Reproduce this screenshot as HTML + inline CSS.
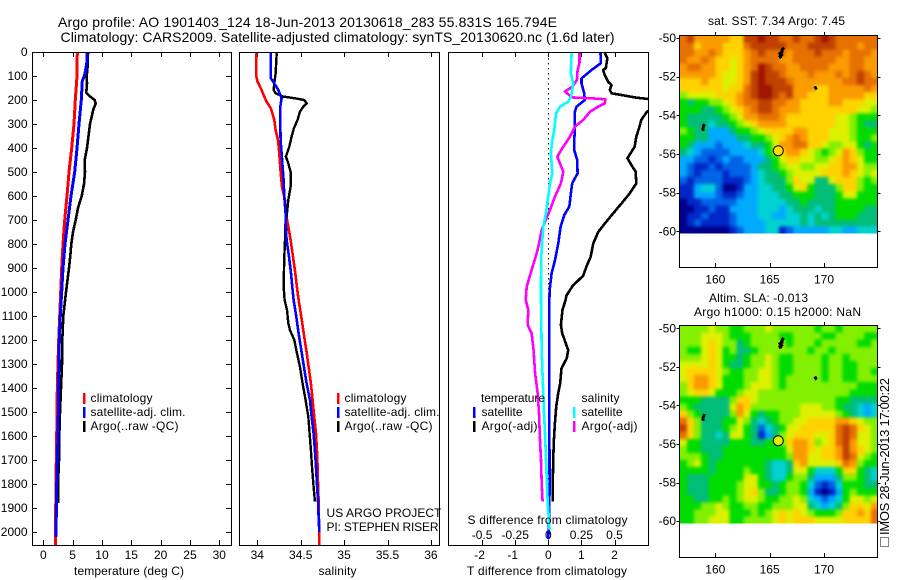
<!DOCTYPE html>
<html lang="en">
<head>
<meta charset="utf-8">
<title>Argo profile</title>
<style>
html,body{margin:0;padding:0;background:#fff;}
svg{display:block;}
text{font-family:"Liberation Sans",sans-serif;font-size:12px;fill:#000;}
.big{font-size:14px;}
.mid{font-size:13px;}
.frame{fill:none;stroke:#000;stroke-width:1;shape-rendering:crispEdges;}
.bar{shape-rendering:crispEdges;}
</style>
</head>
<body>
<svg id="chart" xmlns="http://www.w3.org/2000/svg" width="900" height="580" viewBox="0 0 900 580">
  <defs>
    <clipPath id="clip1"><rect x="32" y="52" width="199" height="493"/></clipPath>
    <clipPath id="clip2"><rect x="239" y="52" width="201" height="493"/></clipPath>
    <clipPath id="clip3"><rect x="448" y="52" width="201" height="493"/></clipPath>
    <clipPath id="clipMap1"><rect x="679.5" y="35.5" width="198" height="198"/></clipPath>
    <clipPath id="clipMap2"><rect x="679.5" y="325.5" width="198" height="198"/></clipPath>
    <filter id="soften" x="-5%" y="-5%" width="110%" height="110%" color-interpolation-filters="sRGB">
      <feGaussianBlur stdDeviation="1.6"/>
      <feComponentTransfer><feFuncA type="linear" slope="4"/></feComponentTransfer>
    </filter>
  </defs>

  <text class="big" x="58" y="27" textLength="499" lengthAdjust="spacing">Argo profile: AO 1901403_124 18-Jun-2013 20130618_283 55.831S 165.794E</text>
  <text class="big" x="60.5" y="42" textLength="554" lengthAdjust="spacing">Climatology: CARS2009. Satellite-adjusted climatology: synTS_20130620.nc (1.6d later)</text>

  <g id="p1"></g>
  <g id="p2"></g>
  <g id="p3"></g>
  <g id="m1"></g>
  <g id="m2"></g>

  <rect class="frame" x="32.5" y="52.5" width="199" height="493"/>
  <rect class="frame" x="239.5" y="52.5" width="200" height="493"/>
  <rect class="frame" x="448.5" y="52.5" width="200" height="493"/>
  <rect class="frame" x="679.5" y="35.5" width="198" height="232"/>
  <rect class="frame" x="679.5" y="325.5" width="198" height="232"/>

  <text x="74" y="575" textLength="110" lengthAdjust="spacing">temperature (deg C)</text>
  <text x="318.5" y="575" textLength="38" lengthAdjust="spacing">salinity</text>
  <text x="467" y="575" textLength="160" lengthAdjust="spacing">T difference from climatology</text>
  <text x="467.5" y="524" textLength="160" lengthAdjust="spacing">S difference from climatology</text>

  <g>
    <rect class="bar" x="83" y="393" width="2.4" height="11" fill="#ff0000"/>
    <rect class="bar" x="83" y="407" width="2.4" height="11" fill="#0000ff"/>
    <rect class="bar" x="83" y="421" width="2.4" height="11" fill="#000000"/>
    <text x="90.5" y="402" textLength="62" lengthAdjust="spacing">climatology</text>
    <text x="90.5" y="416" textLength="95" lengthAdjust="spacing">satellite-adj. clim.</text>
    <text x="90.5" y="430" textLength="88" lengthAdjust="spacing">Argo(..raw -QC)</text>
  </g>
  <g>
    <rect class="bar" x="337" y="393" width="2.4" height="11" fill="#ff0000"/>
    <rect class="bar" x="337" y="407" width="2.4" height="11" fill="#0000ff"/>
    <rect class="bar" x="337" y="421" width="2.4" height="11" fill="#000000"/>
    <text x="344.5" y="402" textLength="62" lengthAdjust="spacing">climatology</text>
    <text x="344.5" y="416" textLength="95" lengthAdjust="spacing">satellite-adj. clim.</text>
    <text x="344.5" y="430" textLength="88" lengthAdjust="spacing">Argo(..raw -QC)</text>
  </g>
  <g>
    <text x="481" y="402" textLength="64" lengthAdjust="spacing">temperature</text>
    <rect class="bar" x="473" y="407" width="2.4" height="11" fill="#0000ff"/>
    <rect class="bar" x="473" y="421" width="2.4" height="11" fill="#000000"/>
    <text x="481.5" y="416" textLength="41" lengthAdjust="spacing">satellite</text>
    <text x="481.5" y="430" textLength="56" lengthAdjust="spacing">Argo(-adj)</text>
    <text x="581.5" y="402" textLength="38" lengthAdjust="spacing">salinity</text>
    <rect class="bar" x="573" y="407" width="2.4" height="11" fill="#00ffff"/>
    <rect class="bar" x="573" y="421" width="2.4" height="11" fill="#ff00ff"/>
    <text x="581.5" y="416" textLength="41" lengthAdjust="spacing">satellite</text>
    <text x="581.5" y="430" textLength="56" lengthAdjust="spacing">Argo(-adj)</text>
  </g>

  <text x="326.5" y="517" textLength="115" lengthAdjust="spacing">US ARGO PROJECT</text>
  <text x="326.5" y="531" textLength="112" lengthAdjust="spacing">PI: STEPHEN RISER</text>

  <text x="708" y="25" textLength="137" lengthAdjust="spacing">sat. SST: 7.34 Argo: 7.45</text>
  <text x="709" y="302" textLength="99" lengthAdjust="spacing">Altim. SLA: -0.013</text>
  <text x="694" y="316" textLength="167" lengthAdjust="spacing">Argo h1000: 0.15 h2000: NaN</text>

  <rect x="880.5" y="537.5" width="8" height="9" fill="none" stroke="#000" stroke-width="1" stroke-dasharray="1 1" shape-rendering="crispEdges"/>
  <text class="mid" x="889" y="535" transform="rotate(-90 889 535)" textLength="157" lengthAdjust="spacing">IMOS 28-Jun-2013 17:00:22</text>
</svg>

<script>
// ---------- profile axis labels ----------
const depthTicks = [0,100,200,300,400,500,600,700,800,900,1000,1100,1200,1300,1400,1500,1600,1700,1800,1900,2000];
const tempTicks = [0,5,10,15,20,25,30];
const salTicks = [34,34.5,35,35.5,36];
const salTickLabels = ['34','34.5','35','35.5','36'];
const tDiffTicks = [-2,-1,0,1,2];
const tDiffLabels = ['-2','-1','0','1','2'];
const sDiffTicks = [-0.5,-0.25,0,0.25,0.5];
const sDiffLabels = ['-0.5','-0.25','0','0.25','0.5'];

// ---------- temperature panel (deg C) ----------
const tempClimDepth = [0,100,200,300,400,500,600,700,800,900,1000,1100,1200,1300,1400,1500,1600,1700,1800,1900,2000,2055];
const tempClimValue = [5.8,5.75,5.46,5.23,4.84,4.38,4.04,3.65,3.36,3.14,2.97,2.8,2.62,2.5,2.39,2.33,2.28,2.22,2.16,2.11,2.05,2.05];
const tempSatDepth = [0,50,100,120,200,300,400,500,600,700,800,900,1000,1100,1200,1300,1400,1500,1600,1700,1800,1900,2000,2020];
const tempSatValue = [7.5,7.4,7.0,6.65,6.48,6.08,5.74,5.35,4.72,4.21,3.7,3.36,3.14,2.9,2.73,2.68,2.56,2.56,2.5,2.39,2.28,2.22,2.2,2.2];
const tempArgoDepth = [0,50,100,130,170,185,200,215,240,300,400,450,500,550,600,650,700,750,800,850,900,1000,1100,1200,1300,1400,1500,1600,1700,1800,1880];
const tempArgoValue = [7.62,7.58,7.4,7.45,7.33,7.96,8.76,8.93,8.52,7.96,7.45,7.06,7.11,6.94,6.55,5.91,5.52,5.06,4.77,4.6,4.38,3.87,3.41,3.24,3.19,3.02,2.85,2.73,2.68,2.5,2.5];

// ---------- salinity panel ----------
const salClimDepth = [5,103,124,158,179,207,235,283,325,367,408,464,519,561,617,672,728,783,853,922,992,1033,1103,1172,1242,1311,1381,1450,1519,1589,1658,1728,1797,1867,1936,2006,2055];
const salClimValue = [33.99,33.99,34.004,34.05,34.073,34.107,34.157,34.196,34.211,34.238,34.25,34.261,34.273,34.284,34.319,34.33,34.357,34.384,34.411,34.438,34.461,34.476,34.507,34.534,34.564,34.591,34.618,34.637,34.656,34.676,34.687,34.695,34.699,34.706,34.71,34.714,34.714];
const salSatDepth = [5,110,124,158,193,228,297,367,422,478,533,603,672,728,783,853,922,992,1033,1103,1172,1242,1311,1381,1450,1519,1589,1658,1728,1797,1867,1936,2000];
const salSatValue = [34.157,34.157,34.184,34.242,34.28,34.265,34.265,34.269,34.28,34.292,34.303,34.311,34.326,34.33,34.338,34.365,34.388,34.407,34.418,34.449,34.476,34.507,34.537,34.568,34.607,34.626,34.649,34.664,34.676,34.687,34.699,34.706,34.714];
const salArgoDepth = [5,89,131,158,172,186,193,200,214,228,249,283,318,353,394,436,464,499,561,617,672,728,783,853,922,992,1033,1075,1130,1158,1200,1242,1311,1381,1450,1519,1589,1658,1728,1797,1873];
const salArgoValue = [34.223,34.211,34.196,34.188,34.211,34.299,34.434,34.541,34.568,34.53,34.491,34.464,34.422,34.395,34.369,34.33,34.357,34.384,34.384,34.357,34.342,34.319,34.319,34.311,34.307,34.307,34.315,34.342,34.357,34.376,34.426,34.449,34.491,34.522,34.557,34.587,34.603,34.618,34.63,34.645,34.664];

// ---------- difference panel ----------
const dTSatDepth = [5,47,75,110,131,172,200,228,249,325,367,408,450,506,547,589,644,679,728,797,867,922,978,1033,1500,1800,1900,2030];
const dTSatValue = [1.576,1.586,1.305,1.004,1.004,1.084,1.104,0.853,0.803,0.803,0.783,0.783,0.873,0.884,0.723,0.683,0.633,0.482,0.371,0.301,0.201,0.1,0.05,0.03,0.03,0.04,0.03,0.0];
const dTArgoDepth = [5,26,68,75,96,124,138,158,172,179,189,196,214,249,283,318,353,394,443,471,499,548,589,631,672,714,749,797,853,894,933,972,1014,1033,1075,1137,1172,1214,1242,1276,1318,1381,1422,1478,1547,1617,1686,1769,1873];
const dTArgoValue = [1.707,1.787,1.737,1.657,1.707,1.807,1.908,1.857,1.908,2.209,2.61,3.01,3.51,2.98,2.81,2.74,2.66,2.61,2.39,2.51,2.64,2.66,2.46,2.21,1.96,1.71,1.51,1.36,1.28,1.15,1.05,0.75,0.55,0.522,0.43,0.38,0.42,0.53,0.6,0.56,0.4,0.36,0.3,0.24,0.2,0.17,0.15,0.14,0.13];
const dSSatDepth = [5,89,131,179,207,228,256,325,367,422,506,547,603,672,728,783,853,953,1033,1242,1353,1492,1589,1728,1867,1991];
const dSSatValue = [0.176,0.171,0.188,0.176,0.151,0.088,0.058,0.045,0.03,0.02,0.03,0.013,0,-0.018,-0.038,-0.045,-0.053,-0.055,-0.055,-0.05,-0.043,-0.033,-0.025,-0.015,-0.005,0.01];
const dSArgoDepth = [5,47,75,117,144,165,179,189,193,197,214,228,249,283,311,353,394,436,464,499,547,603,658,714,742,811,853,908,978,1033,1075,1137,1172,1242,1339,1422,1505,1617,1700,1797,1873];
const dSArgoValue = [0.236,0.236,0.221,0.216,0.183,0.126,0.156,0.176,0.327,0.432,0.427,0.377,0.314,0.264,0.201,0.163,0.113,0.068,0.088,0.113,0.095,0.05,0.013,-0.03,-0.05,-0.075,-0.095,-0.126,-0.163,-0.171,-0.151,-0.156,-0.126,-0.111,-0.1,-0.08,-0.07,-0.063,-0.055,-0.05,-0.043];

// ---------- map data: colour level per grid cell, north to south ----------
const mapLonTicks = [160,165,170];
const mapLatTicks = [-50,-52,-54,-56,-58,-60];
const mapLatLabels = ['-50','-52','-54','-56','-58','-60'];
const levelColours = ['#00008c','#0028c8','#0064e6','#00aaff','#00d2d2','#00be78','#00dc00','#82f000','#dcf000','#ffd200','#fa9b00','#e67000','#c04000','#a01400'];

const sstLevels = [
[11,12,10,10,10,10,10,9,9,12,12,13,12,12,11,11,12,11,11,12,13,12,11,11,11,11,11,11],
[11,11,9,10,10,10,9,9,9,11,12,12,12,12,12,11,11,11,12,12,12,12,11,11,11,10,11,11],
[11,11,10,10,11,10,9,9,9,10,11,12,11,11,11,10,11,11,11,12,11,11,11,10,11,11,11,10],
[11,10,10,11,10,9,9,8,9,10,11,11,11,11,10,10,11,11,11,11,11,11,10,10,11,11,10,10],
[10,11,11,10,10,9,9,8,9,10,11,13,12,11,11,10,10,11,11,11,11,10,10,10,11,11,10,10],
[10,10,10,10,10,9,8,8,9,10,12,13,12,12,11,10,10,10,11,10,10,10,11,10,11,12,11,10],
[9,9,9,10,9,9,8,8,9,10,12,13,12,12,12,11,10,10,10,10,10,10,10,11,11,12,11,11],
[9,9,9,9,9,9,8,9,9,11,12,13,13,12,12,12,10,10,10,9,9,10,10,10,10,10,11,10],
[7,8,8,8,8,9,9,9,10,11,12,13,13,12,11,12,10,10,9,9,9,10,10,10,10,10,9,9],
[6,5,6,6,7,7,8,9,10,11,11,12,12,11,11,10,10,9,9,9,9,10,10,9,9,9,8,8],
[6,6,6,5,5,6,7,8,9,10,11,12,12,11,10,10,10,9,9,9,9,9,9,9,9,8,8,7],
[6,5,5,5,5,5,6,7,8,10,10,11,11,11,10,9,9,9,9,9,9,9,8,8,7,6,6,6],
[6,5,5,5,4,5,5,6,7,8,9,10,10,10,10,9,9,9,9,9,9,9,8,8,7,6,5,5],
[7,6,5,5,3,3,3,5,6,6,7,8,9,9,9,9,10,10,9,9,9,8,8,8,7,6,6,6],
[6,6,5,5,3,3,3,3,5,5,6,6,7,8,9,10,11,10,9,9,9,8,8,8,7,6,6,7],
[6,5,3,3,3,2,3,3,3,4,5,5,6,8,10,10,11,11,9,9,8,7,7,8,8,6,5,6],
[5,4,3,2,2,2,2,3,3,3,3,4,6,7,9,10,10,9,8,7,6,7,8,10,9,7,6,6],
[3,3,2,2,1,2,3,2,2,3,3,3,5,6,8,9,9,8,8,7,7,8,9,10,9,8,6,6],
[3,2,1,1,2,1,2,2,2,2,3,5,5,6,7,8,8,7,7,8,8,9,9,10,10,8,7,7],
[3,2,1,2,2,2,1,2,2,2,3,4,5,5,6,7,8,8,8,8,9,9,9,10,9,8,7,8],
[2,1,2,2,2,2,1,1,1,2,3,4,5,5,5,7,9,8,8,5,5,8,9,9,9,7,6,7],
[1,1,3,4,4,2,0,0,1,3,3,4,4,5,5,6,8,9,6,5,5,5,7,9,9,7,6,6],
[1,1,3,3,3,2,1,1,2,3,3,4,4,4,5,5,6,6,6,5,5,5,6,8,8,6,6,6],
[0,1,1,2,2,2,2,2,3,3,3,4,4,4,4,5,5,6,5,5,5,5,6,6,6,6,6,6],
[0,0,1,1,2,1,1,3,3,3,3,4,4,4,3,4,5,5,5,4,5,5,6,6,6,6,5,5],
[0,1,1,2,1,1,1,2,3,3,3,4,4,3,3,4,4,5,4,5,4,5,6,6,6,5,5,5],
[0,1,2,1,1,1,1,2,3,3,3,3,4,4,4,4,4,5,4,5,5,5,5,5,5,5,5,5],
[0,0,0,0,0,0,0,1,2,3,3,3,4,4,1,2,3,3,3,3,3,4,4,3,3,4,4,4]
];

const slaLevels = [
[7,7,7,7,8,7,7,6,6,7,7,7,8,7,7,7,7,7,7,6,7,7,6,7,7,7,7,7],
[7,7,7,8,8,8,7,6,6,6,7,7,7,7,6,6,7,7,7,7,6,6,7,7,7,7,6,6],
[7,7,7,8,9,8,7,7,5,6,7,7,7,7,7,6,7,7,7,6,7,7,7,7,7,6,6,7],
[7,6,6,8,9,8,6,7,5,5,6,7,7,7,7,7,7,7,6,7,7,6,7,7,7,7,7,7],
[7,7,7,8,9,8,6,6,5,6,7,7,8,7,6,6,7,7,7,7,6,7,7,6,7,7,7,7],
[8,8,8,8,9,8,6,5,5,6,7,7,8,7,6,6,7,7,7,7,6,7,7,6,6,7,7,7],
[8,9,9,9,9,8,7,6,6,7,7,8,8,7,6,6,7,7,7,7,6,7,7,6,6,7,7,6],
[8,9,10,10,9,8,6,6,6,7,7,8,8,7,6,7,7,7,7,7,6,7,7,6,6,7,7,7],
[7,9,10,10,9,8,6,6,6,7,8,8,8,7,6,7,7,7,7,7,7,7,7,7,7,6,6,6],
[7,8,9,9,8,6,6,6,7,8,8,7,7,7,7,7,7,7,7,7,7,7,7,7,6,6,6,6],
[6,6,6,5,5,5,5,7,9,9,8,7,7,7,7,7,7,7,7,7,7,7,6,6,5,5,5,5],
[7,6,5,5,5,5,5,8,10,9,7,7,7,7,7,7,7,8,8,8,7,7,6,5,5,4,3,4],
[9,7,6,5,5,5,5,7,10,8,6,5,6,6,7,7,7,8,8,8,8,8,7,6,5,4,3,4],
[11,9,7,5,5,5,6,6,8,7,5,4,5,6,7,7,8,8,9,9,9,9,10,10,9,8,7,7],
[12,9,7,5,5,5,6,7,8,6,5,2,4,5,6,8,8,9,9,9,9,9,11,12,11,9,8,7],
[11,9,7,5,5,4,5,8,8,6,5,1,3,5,7,8,9,9,9,8,8,9,11,12,11,8,8,7],
[8,6,6,5,5,5,5,6,6,6,5,5,6,6,7,9,10,10,9,7,8,9,11,12,10,8,8,7],
[7,6,6,5,5,5,6,6,6,6,6,6,6,6,6,8,10,10,9,8,9,9,10,12,10,9,8,7],
[7,7,7,6,5,5,6,6,6,6,6,6,6,6,6,7,10,10,8,8,9,9,10,12,11,8,7,6],
[6,7,8,6,5,6,6,6,6,6,6,6,5,4,4,5,9,10,8,8,8,8,9,11,10,7,6,6],
[6,6,6,6,5,6,6,6,6,7,6,6,5,4,4,5,8,8,6,4,4,4,6,9,9,6,5,4],
[6,5,5,5,6,6,6,6,6,8,8,6,5,4,4,6,7,7,5,3,3,3,5,7,7,6,5,4],
[6,5,5,5,6,6,6,6,7,8,8,6,6,5,6,7,7,6,4,2,1,2,4,6,6,6,5,5],
[6,5,5,5,6,6,6,6,7,8,9,7,5,5,6,7,7,6,3,1,0,1,3,6,7,6,6,6],
[6,6,5,5,6,6,7,6,7,8,8,7,6,6,7,7,8,7,4,3,2,3,4,6,8,8,7,8],
[6,6,6,7,7,8,7,6,6,7,7,6,6,7,7,7,8,8,5,4,3,4,5,7,9,9,8,10],
[6,6,7,7,7,8,8,6,6,6,7,6,7,8,9,8,9,8,7,6,6,6,7,9,9,10,9,11],
[6,6,7,7,8,8,8,6,6,7,7,7,7,8,9,8,9,9,9,8,8,8,8,9,9,9,9,11]
];

// ---------- argo positions on the maps ----------
const profileLon = [165.794];
const profileLat = [-55.831];
const floatTrackALon = [166.3,166.15,166.15,165.95,166.1,165.95,166.05];
const floatTrackALat = [-50.5,-50.6,-50.72,-50.8,-50.88,-50.95,-51.05];
const floatTrackBLon = [169.15,169.25,169.15];
const floatTrackBLat = [-52.5,-52.6,-52.65];
const floatTrackCLon = [159.0,158.9,158.85];
const floatTrackCLat = [-54.45,-54.62,-54.8];

// ---------- axis functions ----------
const yDepth = d => 52 + 0.24 * d;
const xTemp = v => 43.3 + 5.867 * v;
const xSal = v => 257.3 + 86.8 * (v - 34);
const xDT = v => 548.3 + 33.1 * v;
const xDS = v => 548.3 + 132.4 * v;
const xLon = v => 715.3 + 10.87 * (v - 160);
const yLat1 = v => 38 + 19.33 * (-50 - v);
const yLat2 = v => 328.3 + 19.28 * (-50 - v);

const NS = 'http://www.w3.org/2000/svg';
function mk(tag, attrs, parent) {
  const e = document.createElementNS(NS, tag);
  for (const k in attrs) e.setAttribute(k, attrs[k]);
  parent.appendChild(e);
  return e;
}
function hTick(parent, x1, x2, y) {
  return mk('line', {x1: x1, x2: x2, y1: Math.round(y) + 0.5, y2: Math.round(y) + 0.5, stroke: '#000', 'stroke-width': 1, 'shape-rendering': 'crispEdges'}, parent);
}
function vTick(parent, x, y1, y2) {
  return mk('line', {x1: Math.round(x) + 0.5, x2: Math.round(x) + 0.5, y1: y1, y2: y2, stroke: '#000', 'stroke-width': 1, 'shape-rendering': 'crispEdges'}, parent);
}
function label(parent, x, y, anchor, str) {
  const t = mk('text', {x: x, y: y, 'text-anchor': anchor}, parent);
  t.textContent = str;
  return t;
}
function profileLine(parent, depths, values, xFn, colour, width, clip) {
  const pts = depths.map((d, i) => xFn(values[i]).toFixed(1) + ',' + yDepth(d).toFixed(1)).join(' ');
  return mk('polyline', {points: pts, fill: 'none', stroke: colour, 'stroke-width': width, 'stroke-linejoin': 'round', 'shape-rendering': 'crispEdges', 'clip-path': 'url(#' + clip + ')'}, parent);
}

const p1 = document.getElementById('p1');
const p2 = document.getElementById('p2');
const p3 = document.getElementById('p3');
const m1 = document.getElementById('m1');
const m2 = document.getElementById('m2');

// ---------- temperature panel ----------
depthTicks.forEach(d => {
  const a = hTick(p1, 32, 37, yDepth(d));
  
  
  const b = hTick(p1, 226, 231, yDepth(d));
  
  
  const t = label(p1, 27.5, yDepth(d) + 4, 'end', String(d));
  
  
});
tempTicks.forEach(v => {
  const a = vTick(p1, xTemp(v), 52, 57);
  
  
  const b = vTick(p1, xTemp(v), 540, 545);
  
  
  const t = label(p1, xTemp(v), 559, 'middle', String(v));
  
  
});
const tempArgoLine = profileLine(p1, tempArgoDepth, tempArgoValue, xTemp, '#000', 2.6, 'clip1');


const tempClimLine = profileLine(p1, tempClimDepth, tempClimValue, xTemp, '#f00', 3, 'clip1');


const tempSatLine = profileLine(p1, tempSatDepth, tempSatValue, xTemp, '#00f', 3, 'clip1');



// ---------- salinity panel ----------
salTicks.forEach((v, i) => {
  const a = vTick(p2, xSal(v), 52, 57);
  
  
  const b = vTick(p2, xSal(v), 540, 545);
  
  
  const t = label(p2, xSal(v), 559, 'middle', salTickLabels[i]);
  
  
});
const salClimLine = profileLine(p2, salClimDepth, salClimValue, xSal, '#f00', 2.6, 'clip2');


const salArgoLine = profileLine(p2, salArgoDepth, salArgoValue, xSal, '#000', 2.4, 'clip2');


const salSatLine = profileLine(p2, salSatDepth, salSatValue, xSal, '#00f', 2.6, 'clip2');



// ---------- difference panel ----------
tDiffTicks.forEach((v, i) => {
  const a = vTick(p3, xDT(v), 52, 57);
  
  
  const b = vTick(p3, xDT(v), 540, 545);
  
  
  const t = label(p3, xDT(v) - (v < 0 ? 2.5 : 0), 559, 'middle', tDiffLabels[i]);
  
  
});
sDiffTicks.forEach((v, i) => {
  const t = label(p3, xDS(v), 539, 'middle', sDiffLabels[i]);
  
  
});
const zeroLine = mk('line', {x1: xDT(0), x2: xDT(0), y1: 53, y2: yDepth(2055), stroke: '#000', 'stroke-width': 1, 'stroke-dasharray': '1.5 3.5', 'shape-rendering': 'crispEdges'}, p3);


const dTSatLine = profileLine(p3, dTSatDepth, dTSatValue, xDT, '#00f', 2.6, 'clip3');


const dTArgoLine = profileLine(p3, dTArgoDepth, dTArgoValue, xDT, '#000', 2.6, 'clip3');


const dSArgoLine = profileLine(p3, dSArgoDepth, dSArgoValue, xDS, '#f0f', 2.6, 'clip3');


const dSSatLine = profileLine(p3, dSSatDepth, dSSatValue, xDS, '#0ff', 2.6, 'clip3');



// ---------- maps ----------
const lonEdge = 156.75;
const lonCell = 0.6505;
const latEdge = -49.86;
const latCell = 0.3668;

function drawGrid(parent, levels, yLat, clip) {
  const outer = mk('g', {'clip-path': 'url(#' + clip + ')'}, parent);
  const frag = mk('g', {filter: 'url(#soften)', 'shape-rendering': 'crispEdges'}, outer);
  levels.forEach((row, j) => {
    row.forEach((lv, i) => {
      const x0 = xLon(lonEdge + i * lonCell), x1 = xLon(lonEdge + (i + 1) * lonCell);
      const y0 = yLat(latEdge - j * latCell), y1 = yLat(latEdge - (j + 1) * latCell);
      const c = mk('rect', {x: x0.toFixed(2), y: y0.toFixed(2), width: (x1 - x0 + 0.3).toFixed(2), height: (y1 - y0 + 0.3).toFixed(2), fill: levelColours[lv]}, frag);
      
      
    });
  });
  return outer;
}
function drawTrack(parent, lons, lats, yLat) {
  const pts = lons.map((v, i) => xLon(v).toFixed(1) + ',' + yLat(lats[i]).toFixed(1)).join(' ');
  return mk('polyline', {points: pts, fill: 'none', stroke: '#000', 'stroke-width': 3, 'shape-rendering': 'crispEdges'}, parent);
}
function drawMapAxes(parent, yLat, top, bottom) {
  mapLonTicks.forEach(v => {
    const a = vTick(parent, xLon(v), top - 3, top);
    
    
    const b = vTick(parent, xLon(v), bottom - 4, bottom);
    
    
    const t = label(parent, xLon(v), bottom + 16.5, 'middle', String(v));
    
    
  });
  mapLatTicks.forEach((v, i) => {
    const a = hTick(parent, 676.5, 679.5, yLat(v));
    
    
    const b = hTick(parent, 877.5, 880.5, yLat(v));
    
    
    const t = label(parent, 676, yLat(v) + 4, 'end', mapLatLabels[i]);
    
    
  });
}

const sstGrid = drawGrid(m1, sstLevels, yLat1, 'clipMap1');


drawMapAxes(m1, yLat1, 35, 267);
const sstTrackA = drawTrack(m1, floatTrackALon, floatTrackALat, yLat1);


const sstTrackB = drawTrack(m1, floatTrackBLon, floatTrackBLat, yLat1);


const sstTrackC = drawTrack(m1, floatTrackCLon, floatTrackCLat, yLat1);


const sstMarker = mk('circle', {cx: xLon(profileLon[0]), cy: yLat1(profileLat[0]), r: 5, fill: '#ffdc00', stroke: '#000', 'stroke-width': 1}, m1);



const slaGrid = drawGrid(m2, slaLevels, yLat2, 'clipMap2');


drawMapAxes(m2, yLat2, 325, 557);
const slaTrackA = drawTrack(m2, floatTrackALon, floatTrackALat, yLat2);


const slaTrackB = drawTrack(m2, floatTrackBLon, floatTrackBLat, yLat2);


const slaTrackC = drawTrack(m2, floatTrackCLon, floatTrackCLat, yLat2);


const slaMarker = mk('circle', {cx: xLon(profileLon[0]), cy: yLat2(profileLat[0]), r: 5, fill: '#dcf000', stroke: '#000', 'stroke-width': 1}, m2);


</script>
</body>
</html>
